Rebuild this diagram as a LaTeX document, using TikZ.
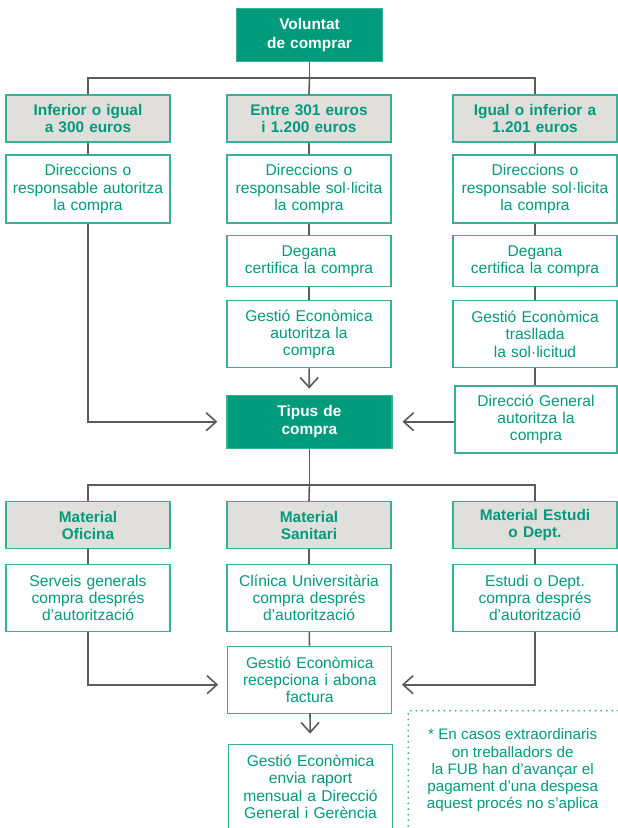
\documentclass[tikz,border=0pt]{standalone}
\usepackage{fontspec}
\setmainfont{Liberation Sans}
\usetikzlibrary{arrows.meta}
\usetikzlibrary{positioning}
\definecolor{fubgreen}{HTML}{009B7D}
\definecolor{fubline}{HTML}{3AAF94}
\definecolor{fubgray}{HTML}{E0DFDB}
\definecolor{fubwire}{HTML}{5B5B5B}

\begin{document}
\begin{tikzpicture}[x=1pt,y=-1pt,
		box/.style={
			draw=fubline,
			line width=1.2pt,
			minimum width=164pt,
			inner sep=0pt,
			text width=162pt,
			align=center,
			font=\fontsize{15.6}{17.3}\selectfont,
		},
		headbox/.style={box, fill=fubgreen, text=white, minimum height=53pt,
			font=\bfseries\fontsize{15.4}{18.2}\selectfont},
		catbox/.style={box, fill=fubgray, text=fubgreen, minimum height=47pt,
			font=\bfseries\fontsize{15.4}{16.8}\selectfont},
		stepbox/.style={box, fill=white, text=fubgreen, minimum height=67pt},
		wire/.style={draw=fubwire, line width=1.6pt},
		arr/.style={wire, -{Straight Barb[length=10pt,width=18pt]}}]
		\useasboundingbox (0,0) rectangle (618,828);
		
		% start
		\node[headbox, minimum width=146pt, text width=140pt] (want) at (309.5,35) {Voluntat\\de comprar};
		
		% amounts
		\node[catbox] (lim1) at (88,118.5) {Inferior o igual\\a 300 euros};
		\node[catbox] (lim2) at (309,118.5) {Entre 301 euros\\i 1.200 euros};
		\node[catbox] (lim3) at (535,118.5) {Igual o inferior a\\1.201 euros};
		
		\node[stepbox, minimum height=68pt] (dir1) at (88,189) {Direccions o\\responsable autoritza\\la compra};
		\node[stepbox, minimum height=68pt] (dir2) at (309,189) {Direccions o\\responsable sol·licita\\la compra};
		\node[stepbox, minimum height=68pt] (dir3) at (535,189) {Direccions o\\responsable sol·licita\\la compra};
		
		\node[stepbox, minimum height=51pt] (deg2) at (309,261.3) {Degana\\certifica la compra};
		\node[stepbox, minimum height=51pt] (deg3) at (535,261.3) {Degana\\certifica la compra};
		
		\node[stepbox] (eco2) at (309,334.3) {Gestió Econòmica\\autoritza la\\compra};
		\node[stepbox] (eco3) at (535,334.3) {Gestió Econòmica\\trasllada\\la sol·licitud};
		\node[stepbox, minimum width=162pt, text width=160pt] (dg3) at (536,419.5) {Direcció General\\autoritza la\\compra};
		
		% type
		\node[headbox, minimum width=165pt] (type) at (309.4,421.7) {Tipus de\\compra};
		
		\node[catbox] (mat1) at (88,525.3) {Material\\Oficina};
		\node[catbox] (mat2) at (309,525.3) {Material\\Sanitari};
		\node[catbox] (mat3) at (535,525.3) {Material Estudi\\o Dept.};
		
		\node[stepbox] (buy1) at (88,597.8) {Serveis generals\\compra després\\d’autorització};
		\node[stepbox] (buy2) at (309,597.8) {Clínica Universitària\\compra després\\d’autorització};
		\node[stepbox] (buy3) at (535,597.8) {Estudi o Dept.\\compra després\\d’autorització};
		
		\node[stepbox] (pay) at (309.8,679.7) {Gestió Econòmica\\recepciona i abona\\factura};
		\node[stepbox, minimum height=85pt] (report) at (310.5,786.7) {Gestió Econòmica\\envia raport\\mensual a Direcció\\General i Gerència};
		
		% note
		\draw[fubline, line width=2pt, line cap=round, dash pattern=on 0pt off 5.6pt] (618,710.7) -| (408.3,830);
		\node[text=fubgreen, align=center, font=\fontsize{15.2}{17.2}\selectfont] (note) at (512.7,770.3)
			{* En casos extraordinaris\\on treballadors de\\la FUB han d’avançar el\\pagament d’una despesa\\aquest procés no s’aplica};
		
		% connectors
		\coordinate (split1) at (309.5,78);
		\draw[wire] (want) -- (split1);
		\draw[wire] (lim1.north) |- (split1) -| (lim3.north);
		\draw[wire] (split1) -- (lim2.north);
		\draw[wire] (lim1) -- (dir1);
		\draw[wire] (lim2) -- (dir2) -- (deg2) -- (eco2);
		\draw[wire] (lim3) -- (dir3) -- (deg3) -- (eco3) -- (eco3 |- dg3.north);
		
		\draw[arr, shorten >=9pt] (dir1.south) |- (type.west);
		\draw[arr, shorten >=6pt] (eco2) -- (type);
		\draw[arr, shorten >=10pt] (dg3.west |- type.east) -- (type.east);
		
		\coordinate (split2) at (309.4,485);
		\draw[wire] (type) -- (split2);
		\draw[wire] (mat1.north) |- (split2) -| (mat3.north);
		\draw[wire] (split2) -- (mat2.north);
		\draw[wire] (mat1) -- (buy1);
		\draw[wire] (mat2) -- (buy2);
		\draw[wire] (mat3) -- (buy3);
		\draw[wire] (buy2) -- (pay);
		
		\draw[arr, shorten >=9pt] (buy1.south) |- ([yshift=-5pt]pay.west);
		\draw[arr, shorten >=9.5pt] (buy3.south) |- ([yshift=-5pt]pay.east);
		\draw[arr, shorten >=10pt] (pay) -- (report);
	\end{tikzpicture}
\end{document}
